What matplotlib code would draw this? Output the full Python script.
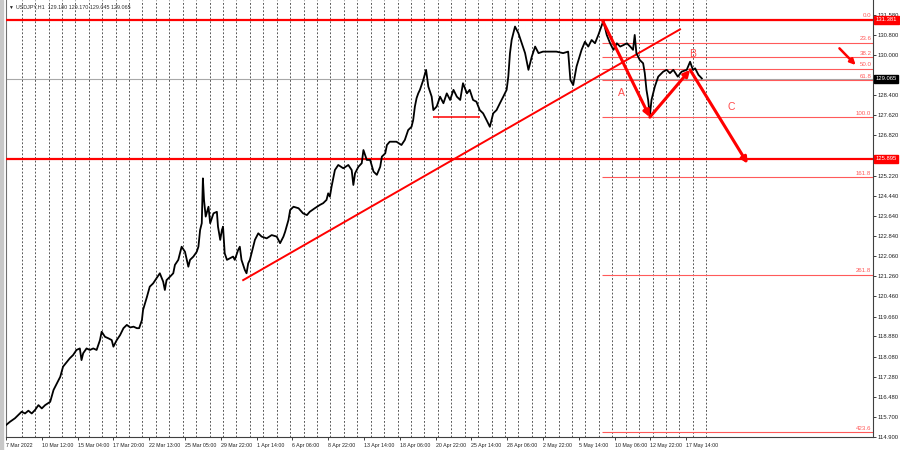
import numpy as np
import matplotlib
matplotlib.use("Agg")
import matplotlib.pyplot as plt
import matplotlib.transforms as mtransforms

plt.rcParams['font.family'] = ['Liberation Sans', 'DejaVu Sans']

# --- price path (H1 bar index, price) ---
bars = [0, 7, 16, 22, 28, 34, 40, 46, 52, 58,
        64, 70, 79, 85, 91, 97, 102, 109, 114, 120,
        126, 132, 135, 138, 144, 150, 156, 162, 168, 171,
        177, 183, 189, 192, 198, 204, 210, 216, 222, 228,
        234, 238, 243, 245, 252, 257, 263, 269, 275, 281,
        284, 287, 293, 299, 302, 308, 314, 320, 326, 329,
        335, 341, 344, 347, 350, 352, 354, 357, 362, 365,
        371, 377, 379, 383, 386, 388, 391, 395, 400, 406,
        409, 415, 418, 421, 427, 430, 433, 436, 442, 445,
        451, 457, 466, 475, 484, 490, 496, 499, 505, 508,
        514, 523, 531, 538, 543, 552, 561, 567, 573, 576,
        579, 582, 588, 594, 603, 612, 618, 621, 624, 630,
        636, 639, 645, 651, 657, 663, 669, 672, 678, 681,
        686, 698, 707, 713, 719, 725, 728, 731, 734, 737,
        740, 746, 751, 755, 761, 764, 770, 776, 782, 788,
        794, 800, 806, 812, 817, 824, 829, 835, 841, 847,
        853, 859, 865, 871, 877, 883, 889, 895, 898, 901,
        904, 910, 916, 922, 928, 934, 940, 946, 952, 960,
        972, 984, 996, 1005, 1009, 1014, 1020, 1029, 1035, 1041,
        1047, 1053, 1059, 1068, 1074, 1080, 1086, 1092, 1098, 1104,
        1110, 1116, 1121, 1124, 1127, 1133, 1139, 1142, 1145, 1148,
        1151, 1154, 1160, 1166, 1175, 1181, 1187, 1193, 1201, 1208,
        1217, 1223, 1228, 1232, 1238, 1241, 1244]
prices = [115.37, 115.50, 115.64, 115.77, 115.90, 115.83, 115.94, 115.83, 115.97, 116.16,
          116.03, 116.16, 116.29, 116.76, 117.02, 117.28, 117.68, 117.87, 118.01, 118.14,
          118.34, 118.40, 117.94, 118.21, 118.40, 118.34, 118.40, 118.34, 118.73, 119.06,
          118.86, 118.80, 118.73, 118.47, 118.73, 118.93, 119.20, 119.33, 119.23, 119.26,
          119.20, 119.20, 119.52, 119.92, 120.44, 120.84, 120.97, 121.17, 121.37, 121.04,
          120.71, 121.10, 121.23, 121.37, 121.70, 121.90, 122.42, 122.22, 121.63, 121.90,
          122.03, 122.22, 122.42, 123.08, 123.35, 125.12, 124.27, 123.61, 124.00, 123.35,
          123.74, 123.80, 123.21, 122.69, 123.08, 123.21, 122.16, 121.90, 121.96, 122.03,
          121.90, 122.29, 122.42, 121.90, 121.50, 121.37, 121.76, 121.90, 122.42, 122.69,
          122.95, 122.82, 122.75, 122.88, 122.82, 122.56, 122.82, 123.01, 123.48, 123.87,
          124.00, 123.94, 123.74, 123.67, 123.80, 123.94, 124.07, 124.14, 124.27, 124.53,
          124.40, 124.79, 125.45, 125.65, 125.52, 125.65, 125.45, 124.86, 125.32, 125.58,
          125.72, 126.24, 125.85, 125.85, 125.39, 125.26, 125.58, 125.98, 126.11, 126.44,
          126.57, 126.57, 126.44, 126.64, 127.03, 127.16, 127.43, 127.96, 128.29, 128.48,
          128.62, 129.01, 129.41, 128.75, 128.35, 127.82, 127.96, 128.35, 128.09, 128.48,
          128.22, 128.62, 128.35, 128.22, 128.88, 128.48, 128.62, 128.22, 128.15, 127.82,
          127.69, 127.43, 127.16, 127.69, 127.82, 128.09, 128.35, 128.62, 129.14, 130.07,
          130.59, 131.12, 130.86, 130.46, 130.07, 129.41, 129.93, 130.33, 130.07, 130.13,
          130.13, 130.13, 130.07, 130.13, 129.01, 128.81, 129.54, 130.20, 130.52, 130.33,
          130.59, 130.46, 130.79, 131.35, 130.79, 130.46, 130.20, 130.46, 130.33, 130.39,
          130.46, 130.33, 130.20, 130.79, 130.07, 129.80, 129.67, 129.28, 128.62, 128.22,
          127.58, 128.22, 128.75, 129.14, 129.34, 129.41, 129.28, 129.41, 129.14, 129.34,
          129.41, 129.73, 129.41, 129.47, 129.21, 129.14, 129.07]

# --- axis labels ---
price_ticks = [131.580, 130.800, 130.000, 129.200, 128.400, 127.620, 126.820,
               126.020, 125.220, 124.440, 123.640, 122.840, 122.060, 121.260,
               120.460, 119.660, 118.880, 118.080, 117.280, 116.480, 115.700, 114.900]
hidden_ticks = [129.200, 126.020]  # covered by the price boxes
date_labels = ["7 Mar 2022", "10 Mar 12:00", "15 Mar 04:00", "17 Mar 20:00",
               "22 Mar 13:00", "25 Mar 05:00", "29 Mar 22:00", "1 Apr 14:00",
               "6 Apr 06:00", "8 Apr 22:00", "13 Apr 14:00", "18 Apr 06:00",
               "20 Apr 22:00", "25 Apr 14:00", "28 Apr 06:00", "2 May 22:00",
               "5 May 14:00", "10 May 06:00", "12 May 22:00", "17 May 14:00"]
bars_per_label = 64

# --- levels and drawings ---
resistance = 131.381
support = 125.895
bid = 129.065
header = "USDJPY,H1  129.180 129.170 129.045 129.065"

fib_start_bar = 1065
fib_high = 131.381
fib_low = 127.535
fib_ratios = [0.0, 0.236, 0.382, 0.5, 0.618, 1.0, 1.618, 2.618, 4.236]
fib_names = ["0.0", "23.6", "38.2", "50.0", "61.8", "100.0", "161.8", "261.8", "423.6"]

trend_bars = [424, 1205]
trend_prices = [121.10, 131.01]
shelf_bars = [764, 847]
shelf_price = 127.54

wave_bars = [1067, 1151, 1223, 1326]
wave_prices = [131.33, 127.54, 129.41, 125.70]
wave_names = ["A", "B", "C"]
wave_label_bars = [1101, 1228, 1296]
wave_label_prices = [128.50, 130.04, 127.94]

hint_bars = [1490, 1519]
hint_prices = [130.26, 129.60]

RED = '#ff0000'
FIB_RED = '#ff5a5a'

fig = plt.figure(figsize=(9, 4.5), dpi=100)
fig.patches.append(plt.Rectangle((0, 0), 3 / 900, 1, transform=fig.transFigure,
                                 color='#c8c8c8', zorder=0))
ax = fig.add_axes([6 / 900, 13 / 450, 867 / 900, 437 / 450])
ax.set_xlim(0, 1550)
ax.set_ylim(114.90, 132.17)

# day grid (dashed verticals)
grid_bars = np.arange(28, 1253, 24)
ax.vlines(grid_bars, 114.90, 132.17, colors='#3c3c3c', linestyles=(0, (2.2, 2.2)),
          linewidth=0.6, zorder=1)

# horizontal levels
ax.axhline(bid, color='#a8a8a8', lw=0.8, zorder=1)
ax.axhline(resistance, color=RED, lw=1.6, zorder=3)
ax.axhline(support, color=RED, lw=1.6, zorder=3)

# fibo
for r, name in zip(fib_ratios, fib_names):
    lvl = fib_high - r * (fib_high - fib_low)
    ax.hlines(lvl, fib_start_bar, 1550, colors=FIB_RED, lw=0.8, zorder=2)
    ax.text(1547, lvl + 0.06, name, color=FIB_RED, fontsize=4.4,
            ha='right', va='bottom', zorder=4)

# price
ax.plot(bars, prices, color='black', lw=1.3, zorder=5)

# trendline and shelf
ax.plot(trend_bars, trend_prices, color=RED, lw=1.4, zorder=4)
ax.hlines(shelf_price, shelf_bars[0], shelf_bars[1], colors=RED, lw=1.1, zorder=4)

# ABC waves
for i in range(3):
    ax.annotate('', xy=(wave_bars[i + 1], wave_prices[i + 1]),
                xytext=(wave_bars[i], wave_prices[i]),
                arrowprops=dict(arrowstyle='-|>', color=RED, lw=2.2,
                                mutation_scale=9, shrinkA=0, shrinkB=0), zorder=6)
    ax.text(wave_label_bars[i], wave_label_prices[i], wave_names[i], color='#ff4a4a',
            fontsize=7.5, ha='center', va='center', zorder=6)

ax.annotate('', xy=(hint_bars[1], hint_prices[1]), xytext=(hint_bars[0], hint_prices[0]),
            arrowprops=dict(arrowstyle='-|>', color=RED, lw=1.8,
                            mutation_scale=8, shrinkA=0, shrinkB=0), zorder=6)

# axes styling
ax.spines['top'].set_visible(False)
ax.spines['left'].set_color('#707070')
ax.spines['right'].set_color('#404040')
ax.spines['bottom'].set_color('#404040')
for s in ['left', 'right', 'bottom']:
    ax.spines[s].set_linewidth(0.8)

ax.yaxis.tick_right()
ax.set_yticks(price_ticks)
ax.set_yticklabels(["" if t in hidden_ticks else f"{t:.3f}" for t in price_ticks])
ax.tick_params(axis='y', labelsize=4.2, length=2.5, width=0.6, pad=1.0,
               colors='#202020')

tick_pos = [i * bars_per_label for i in range(len(date_labels))]
ax.set_xticks(tick_pos)
ax.set_xticklabels(date_labels, ha='left')
ax.tick_params(axis='x', labelsize=3.8, length=2.5, width=0.6, pad=1.5,
               colors='#202020')

# right-axis price boxes
trans = mtransforms.blended_transform_factory(ax.transAxes, ax.transData)
for val, bg in [(resistance, RED), (support, RED), (bid, 'black')]:
    ax.text(1.003, val, f"{val:.3f}", transform=trans, color='white', fontsize=4.2,
            ha='left', va='center', zorder=10, clip_on=False,
            bbox=dict(boxstyle='square,pad=0.25', fc=bg, ec=bg))

# header
fig.text(8 / 900, 1 - 7 / 450, "\u25bc", fontsize=3.5, color='#202020',
         ha='left', va='center')
fig.text(16 / 900, 1 - 7 / 450, header, fontsize=3.9, color='#303030',
         ha='left', va='center')

fig.savefig('out.png', dpi=100)
